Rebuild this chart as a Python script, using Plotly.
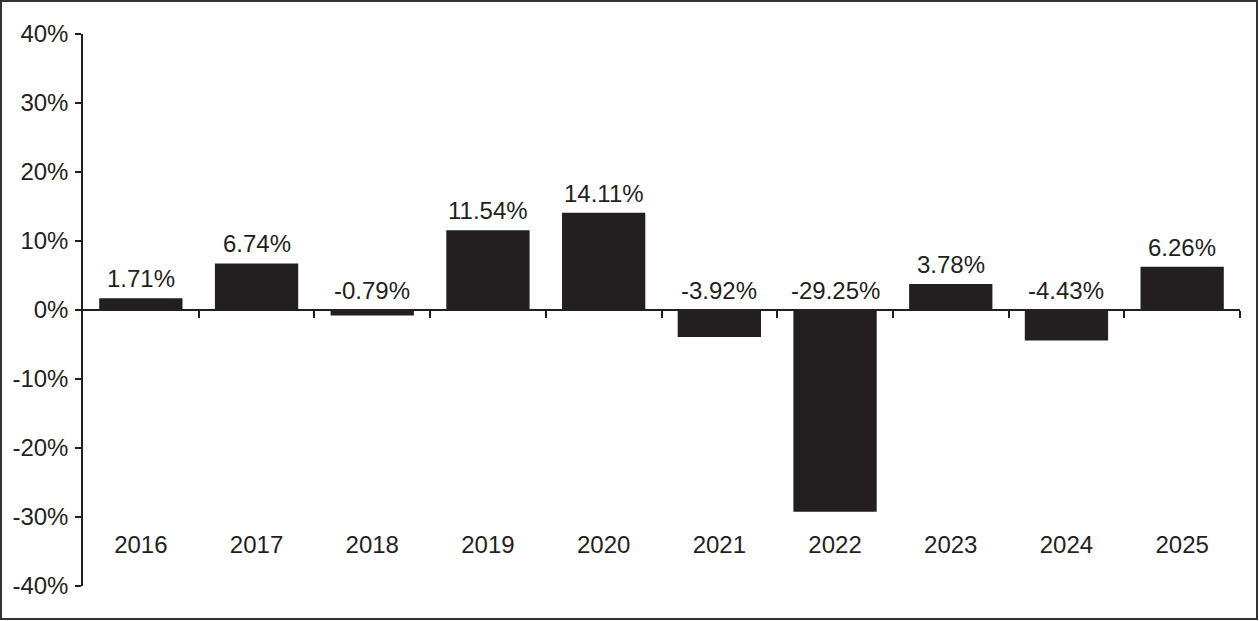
import plotly.graph_objects as go

years = ["2016", "2017", "2018", "2019", "2020", "2021", "2022", "2023", "2024", "2025"]
returns = [1.71, 6.74, -0.79, 11.54, 14.11, -3.92, -29.25, 3.78, -4.43, 6.26]
y_tick_values = [-40, -30, -20, -10, 0, 10, 20, 30, 40]
y_tick_labels = ["-40%", "-30%", "-20%", "-10%", "0%", "10%", "20%", "30%", "40%"]

W, H = 1259, 621
ML, MR, MT, MB = 83, 19, 34, 35
PW, PH = W - ML - MR, H - MT - MB

INK = "#231f20"
FONT = "Liberation Sans, Arial, Helvetica, sans-serif"

idx = list(range(len(years)))
boundaries = [i + 0.5 for i in idx]

fig = go.Figure()
fig.add_trace(go.Bar(x=idx, y=returns, marker=dict(color=INK, line=dict(width=0)),
                     width=0.72, hoverinfo="skip", showlegend=False))
# empty trace to register the zero-line axis
fig.add_trace(go.Scatter(x=[], y=[], xaxis="x2", yaxis="y", showlegend=False, hoverinfo="skip"))

for i, v in zip(idx, returns):
    fig.add_annotation(x=i, y=max(v, 0), text=f"{v:.2f}%", showarrow=False,
                       yanchor="bottom", xanchor="center", yshift=4,
                       font=dict(family=FONT, size=24, color=INK))

# outer border around whole figure
fig.add_shape(type="rect", xref="paper", yref="paper",
              x0=(1 - ML) / PW, x1=(1257 - ML) / PW,
              y0=(H - MB - 619) / PH, y1=(H - MB - 1) / PH,
              line=dict(color="#333333", width=2), fillcolor="rgba(0,0,0,0)", layer="above")

fig.update_layout(
    template="none",
    width=W, height=H,
    margin=dict(l=ML, r=MR, t=MT, b=MB, pad=0, autoexpand=False),
    paper_bgcolor="white", plot_bgcolor="white",
    font=dict(family=FONT, size=24, color=INK),
    xaxis=dict(type="linear", range=[-0.5, 9.5], tickvals=idx, ticktext=years,
               showline=False, ticks="", showgrid=False, zeroline=False, automargin=False,
               anchor="free", position=0.105, tickfont=dict(size=24, color=INK)),
    xaxis2=dict(type="linear", range=[-0.5, 9.5], overlaying="x", anchor="free", position=0.5,
                showline=True, linecolor=INK, linewidth=1.5, ticks="outside", ticklen=7,
                tickwidth=1.5, tickcolor=INK, tickvals=boundaries, showticklabels=False,
                showgrid=False, zeroline=False, automargin=False),
    yaxis=dict(range=[-40, 40], tickvals=y_tick_values, ticktext=y_tick_labels,
               showline=True, linecolor=INK, linewidth=1.5, ticks="outside", ticklen=6,
               tickwidth=1.5, tickcolor=INK, showgrid=False, zeroline=False, automargin=False,
               ticklabelstandoff=2, tickfont=dict(size=24, color=INK)),
    bargap=0.28,
)

fig.write_html("out.html")
